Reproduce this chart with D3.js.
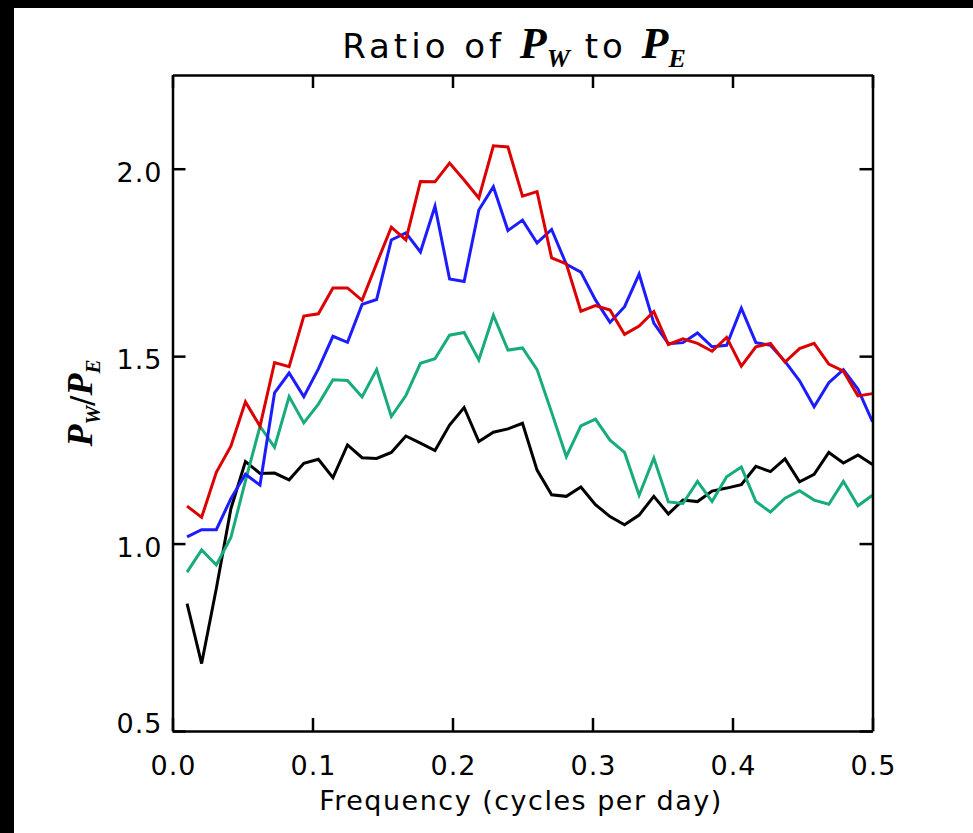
<!DOCTYPE html>
<html>
<head>
<meta charset="utf-8">
<script src="https://cdn.jsdelivr.net/npm/d3@7"></script>
<style>
  body { margin: 0; background: #fff; }
  svg { display: block; }
  text { font-family: "DejaVu Sans", sans-serif; fill: #000; }
  .sym { font-family: "Liberation Serif", serif; font-weight: bold; font-style: italic; letter-spacing: 0; }
</style>
</head>
<body>
<div id="chart"></div>
<script>
// frequencies (cycles per day), 48 bins up to Nyquist
var freq = [0.0104, 0.0208, 0.0313, 0.0417, 0.0521, 0.0625, 0.0729, 0.0833, 0.0938, 0.1042,
            0.1146, 0.1250, 0.1354, 0.1458, 0.1563, 0.1667, 0.1771, 0.1875, 0.1979, 0.2083,
            0.2188, 0.2292, 0.2396, 0.2500, 0.2604, 0.2708, 0.2813, 0.2917, 0.3021, 0.3125,
            0.3229, 0.3333, 0.3438, 0.3542, 0.3646, 0.3750, 0.3854, 0.3958, 0.4063, 0.4167,
            0.4271, 0.4375, 0.4479, 0.4583, 0.4688, 0.4792, 0.4896, 0.5000];

var ratioRed = [1.10, 1.07, 1.19, 1.26, 1.378, 1.313, 1.483, 1.472, 1.607, 1.613,
                1.682, 1.682, 1.649, 1.747, 1.844, 1.81, 1.966, 1.965, 2.015, 1.97,
                1.922, 2.061, 2.058, 1.927, 1.939, 1.762, 1.746, 1.62, 1.635, 1.623,
                1.558, 1.58, 1.619, 1.531, 1.546, 1.534, 1.513, 1.55, 1.473, 1.525,
                1.534, 1.484, 1.52, 1.534, 1.479, 1.46, 1.394, 1.40];

var ratioBlue = [1.018, 1.037, 1.037, 1.12, 1.185, 1.156, 1.402, 1.455, 1.392, 1.466,
                 1.553, 1.537, 1.638, 1.651, 1.81, 1.829, 1.778, 1.9, 1.706, 1.699,
                 1.89, 1.952, 1.835, 1.863, 1.802, 1.838, 1.745, 1.724, 1.65, 1.59,
                 1.632, 1.719, 1.588, 1.533, 1.536, 1.562, 1.525, 1.529, 1.628, 1.536,
                 1.529, 1.486, 1.434, 1.365, 1.429, 1.464, 1.412, 1.325];

var ratioGreen = [0.924, 0.983, 0.943, 1.016, 1.167, 1.313, 1.257, 1.392, 1.322, 1.372,
                  1.437, 1.435, 1.391, 1.464, 1.339, 1.395, 1.481, 1.493, 1.556, 1.563,
                  1.49, 1.609, 1.516, 1.522, 1.464, 1.35, 1.232, 1.314, 1.332, 1.276,
                  1.243, 1.129, 1.228, 1.111, 1.107, 1.166, 1.112, 1.178, 1.204, 1.112,
                  1.084, 1.121, 1.141, 1.116, 1.105, 1.166, 1.101, 1.129];

var ratioBlack = [0.84, 0.68, 0.88, 1.093, 1.219, 1.187, 1.188, 1.17, 1.214, 1.225,
                  1.176, 1.263, 1.229, 1.227, 1.243, 1.287, 1.268, 1.248, 1.316, 1.363,
                  1.272, 1.297, 1.306, 1.321, 1.196, 1.13, 1.126, 1.151, 1.104, 1.072,
                  1.05, 1.076, 1.126, 1.079, 1.116, 1.112, 1.14, 1.148, 1.157, 1.206,
                  1.192, 1.226, 1.165, 1.185, 1.243, 1.215, 1.236, 1.211];

var xTicks = [0.0, 0.1, 0.2, 0.3, 0.4, 0.5];
var yTicks = [0.5, 1.0, 1.5, 2.0];

// drawn back to front
var series = [
    {values: ratioBlack, colour: "#000000"},
    {values: ratioGreen, colour: "#18ab7c"},
    {values: ratioBlue, colour: "#1c1cff"},
    {values: ratioRed, colour: "#dd0000"}
];

var width = 973, height = 833;
var margin = {left: 172.5, right: 100.5, top: 75, bottom: 102};

var svg = d3.select("#chart").append("svg")
    .attr("width", width)
    .attr("height", height);

svg.append("rect").attr("width", width).attr("height", height).attr("fill", "#fff");
// black frame edges of the original screenshot
svg.append("rect").attr("width", width).attr("height", 8).attr("fill", "#000");
svg.append("rect").attr("width", 14).attr("height", height).attr("fill", "#000");

var x = d3.scaleLinear().domain([0, 0.5]).range([margin.left, width - margin.right]);
var y = d3.scaleLinear().domain([0.5, 2.25]).range([height - margin.bottom, margin.top]);

var line = d3.line()
    .x(function(d, i) { return x(freq[i]); })
    .y(function(d) { return y(d); });

svg.selectAll(".series").data(series).enter()
    .append("path")
    .attr("class", "series")
    .attr("fill", "none")
    .attr("stroke", function(d) { return d.colour; })
    .attr("stroke-width", 3)
    .attr("stroke-linejoin", "miter")
    .attr("d", function(d) { return line(d.values); });

// axes, ticks pointing inwards on all four sides
var fmt = d3.format(".1f");

var gBottom = svg.append("g")
    .attr("transform", "translate(0," + y.range()[0] + ")")
    .call(d3.axisBottom(x).tickValues(xTicks).tickFormat(fmt).tickSizeInner(-13).tickSizeOuter(0));
gBottom.selectAll("text")
    .attr("y", 44).attr("dy", null).attr("dx", 0.5)
    .style("font-size", "27px").style("letter-spacing", "1px");

var gTop = svg.append("g")
    .attr("transform", "translate(0," + y.range()[1] + ")")
    .call(d3.axisTop(x).tickValues(xTicks).tickFormat("").tickSizeInner(-13).tickSizeOuter(0));

var gLeft = svg.append("g")
    .attr("transform", "translate(" + x.range()[0] + ",0)")
    .call(d3.axisLeft(y).tickValues(yTicks).tickFormat(fmt).tickSizeInner(-13).tickSizeOuter(0));
gLeft.selectAll("text")
    .attr("x", -10)
    .attr("dy", null)
    .attr("y", function(d) { return d == y.domain()[0] ? 1 : 12.5; }) // IDL lifts the lowest label
    .style("font-size", "27px").style("letter-spacing", "1px");

var gRight = svg.append("g")
    .attr("transform", "translate(" + x.range()[1] + ",0)")
    .call(d3.axisRight(y).tickValues(yTicks).tickFormat("").tickSizeInner(-13).tickSizeOuter(0));

svg.selectAll(".domain, .tick line").attr("stroke", "#000").attr("stroke-width", 2.5);
svg.selectAll(".tick text").attr("fill", "#000");

// title: Ratio of P_W to P_E
var title = svg.append("text")
    .attr("x", 514)
    .attr("y", 58)
    .attr("text-anchor", "middle")
    .style("font-size", "34px")
    .style("letter-spacing", "4px");
title.append("tspan").text("Ratio of ");
title.append("tspan").attr("class", "sym").style("font-size", "44px").text("P");
title.append("tspan").attr("class", "sym").style("font-size", "26px").attr("dy", 9).text("W");
title.append("tspan").attr("dy", -9).text(" to ");
title.append("tspan").attr("class", "sym").style("font-size", "44px").text("P");
title.append("tspan").attr("class", "sym").style("font-size", "26px").attr("dy", 9).text("E");

// x label
svg.append("text")
    .attr("x", 521)
    .attr("y", 810)
    .attr("text-anchor", "middle")
    .style("font-size", "27px")
    .style("letter-spacing", "1.5px")
    .text("Frequency (cycles per day)");

// y label: P_W / P_E
var yLabel = svg.append("text")
    .attr("transform", "translate(92," + ((y.range()[0] + y.range()[1]) / 2) + ") rotate(-90)")
    .attr("text-anchor", "middle")
    .style("font-size", "36px");
yLabel.append("tspan").attr("class", "sym").text("P");
yLabel.append("tspan").attr("class", "sym").style("font-size", "21px").attr("dy", 8).text("W");
yLabel.append("tspan").attr("dy", -8).style("font-size", "31px").text("/");
yLabel.append("tspan").attr("class", "sym").text("P");
yLabel.append("tspan").attr("class", "sym").style("font-size", "21px").attr("dy", 8).text("E");
</script>
</body>
</html>
